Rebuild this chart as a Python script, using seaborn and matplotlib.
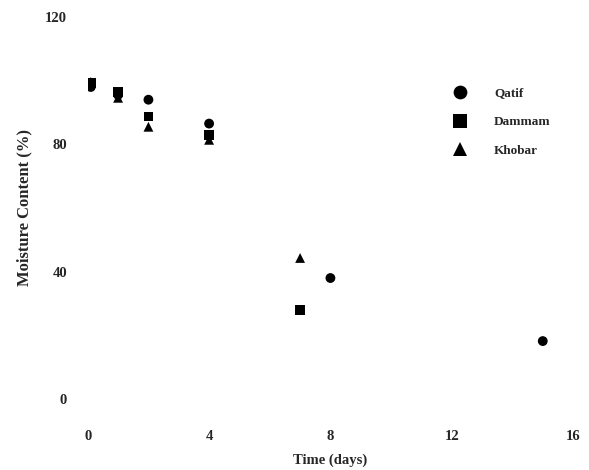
import matplotlib
matplotlib.use("Agg")
import matplotlib.pyplot as plt
import seaborn as sns
import pandas as pd

sites = ["Qatif", "Dammam", "Khobar"]
qatif_days = [0.1, 1.0, 2.0, 4.0, 8.0, 15.0]
qatif_mc = [98.0, 95.5, 94.0, 86.5, 38.0, 18.2]
dammam_days = [0.1, 1.0, 2.0, 4.0, 7.0]
dammam_mc = [99.2, 96.5, 88.7, 83.0, 28.0]
khobar_days = [0.1, 1.0, 2.0, 4.0, 7.0]
khobar_mc = [99.6, 94.6, 85.5, 81.4, 44.3]
x_ticks = [0, 4, 8, 12, 16]
y_ticks = [0, 40, 80, 120]

rows = []
for name, d, v in [("Qatif", qatif_days, qatif_mc),
                   ("Dammam", dammam_days, dammam_mc),
                   ("Khobar", khobar_days, khobar_mc)]:
    for a, b in zip(d, v):
        rows.append({"Time": a, "MC": b, "Site": name})
df = pd.DataFrame(rows)

sns.set_style("white")
plt.rcParams["font.family"] = ["Liberation Serif", "DejaVu Serif"]

fig = plt.figure(figsize=(5.89, 4.70), dpi=100)
ax = fig.add_axes([0.149, 0.151, 0.824, 0.813])
sns.scatterplot(data=df, x="Time", y="MC", style="Site", hue="Site",
                style_order=sites, hue_order=sites,
                markers={"Qatif": "o", "Dammam": "s", "Khobar": "^"},
                palette={"Qatif": "black", "Dammam": "black", "Khobar": "black"},
                s=50, edgecolor="black", linewidth=0, ax=ax, legend=True)

ax.set_xlim(0, 16)
ax.set_ylim(0, 120)
ax.set_xticks(x_ticks)
ax.set_yticks(y_ticks)
for s in ax.spines.values():
    s.set_visible(False)
ax.tick_params(axis="y", length=0, pad=15, labelsize=10.5)
ax.tick_params(axis="x", length=0, pad=22, labelsize=10.5)
for lab in ax.get_xticklabels() + ax.get_yticklabels():
    lab.set_fontweight("bold")
ax.set_xlabel("Time (days)", fontsize=10.5, fontweight="bold", labelpad=8)
ax.set_ylabel("Moisture Content (%)", fontsize=12, fontweight="bold", labelpad=9)

leg = ax.legend(loc="upper left", bbox_to_anchor=(0.715, 0.847), frameon=False,
                markerscale=1.4, handletextpad=1.6, labelspacing=1.25,
                prop={"weight": "bold", "size": 9.5})
for h in leg.legend_handles:
    h.set_color("black")

fig.savefig("out.png", dpi=100)
